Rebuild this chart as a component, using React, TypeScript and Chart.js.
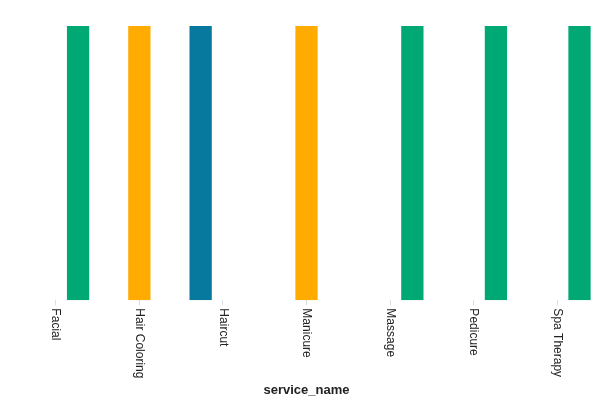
import React, { useEffect, useRef } from "react";
import { Chart, registerables } from "chart.js";

Chart.register(...registerables);

const categories = ["Facial", "Hair Coloring", "Haircut", "Manicure", "Massage", "Pedicure", "Spa Therapy"];
const blueValues = [null, null, 1, null, null, null, null];
const orangeValues = [null, 1, null, 1, null, null, null];
const greenValues = [1, null, null, null, 1, 1, 1];
const xTitle = "service_name";

const FONT = "'Liberation Sans', Arial, Helvetica, sans-serif";

const rotatedLabels = {
  id: "rotatedLabels",
  afterDraw(chart: any) {
    const scale = chart.scales.x;
    const ctx = chart.ctx;
    ctx.save();
    ctx.fillStyle = "#222";
    ctx.font = `12px ${FONT}`;
    ctx.textAlign = "left";
    ctx.textBaseline = "middle";
    const y = scale.top + 8;
    categories.forEach((label, i) => {
      const x = scale.getPixelForTick(i);
      ctx.save();
      ctx.translate(x, y);
      ctx.rotate(Math.PI / 2);
      ctx.fillText(label, 0, 0);
      ctx.restore();
    });
    ctx.restore();
  },
};

export default function App() {
  const ref = useRef<HTMLCanvasElement>(null);
  useEffect(() => {
    if (!ref.current) return;
    const chart = new Chart(ref.current, {
      type: "bar",
      data: {
        labels: categories,
        datasets: [
          { label: "A", data: blueValues as any, backgroundColor: "#07789e" },
          { label: "B", data: orangeValues as any, backgroundColor: "#ffab00" },
          { label: "C", data: greenValues as any, backgroundColor: "#00a874" },
        ],
      },
      options: {
        animation: false,
        responsive: true,
        maintainAspectRatio: false,
        layout: { padding: { left: 14, right: 14, top: 26, bottom: 0 } },
        datasets: { bar: { categoryPercentage: 0.8, barPercentage: 1.0 } } as any,
        plugins: { legend: { display: false }, tooltip: { enabled: false } },
        scales: {
          x: {
            offset: true,
            border: { display: false },
            grid: { offset: false, drawOnChartArea: false, drawTicks: true, tickLength: 5, color: "#dddddd" },
            ticks: {
              color: "rgba(0,0,0,0)",
              minRotation: 90,
              maxRotation: 90,
              font: { size: 12, family: FONT },
              padding: 3,
            },
            title: {
              display: true,
              text: xTitle,
              color: "#222",
              font: { size: 13, weight: "bold", family: FONT },
              padding: { top: 1, bottom: 2 },
            },
          },
          y: { display: false, min: 0, max: 1 },
        },
      },
      plugins: [rotatedLabels],
    });
    return () => chart.destroy();
  }, []);
  return (
    <div style={{ position: "fixed", left: 0, top: 0, width: 613, height: 400 }}>
      <canvas ref={ref} />
    </div>
  );
}
